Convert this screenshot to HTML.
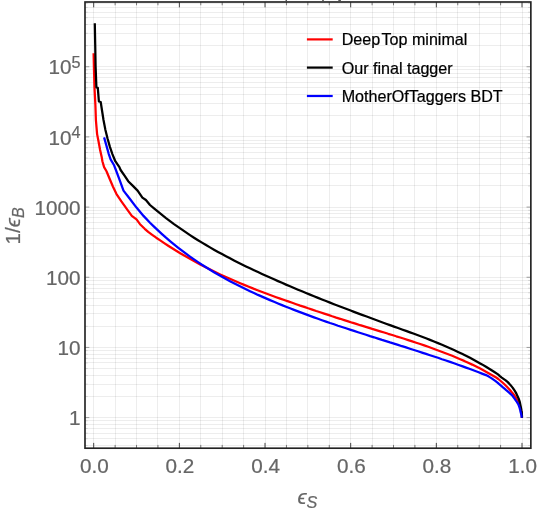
<!DOCTYPE html>
<html lang="en"><head><meta charset="utf-8"><title>ROC curves</title>
<style>
html,body{margin:0;padding:0;background:#fff;}
svg{display:block;will-change:transform;}
text{font-family:"Liberation Sans",Arial,Helvetica,sans-serif;}
.tk{fill:#666;font-size:20.7px;stroke:#666;stroke-width:0.22px;}
.sup{font-size:16.2px;}
.lg{fill:#000;font-size:16.1px;stroke:#000;stroke-width:0.22px;}
</style></head><body>
<svg width="538" height="510" viewBox="0 0 538 510">
<rect x="0" y="0" width="538" height="510" fill="#fff"/>
<g fill="none" stroke="#000" stroke-opacity="0.07" stroke-width="1" shape-rendering="crispEdges">
<line x1="93.5" y1="2.0" x2="93.5" y2="448.2"/>
<line x1="115.5" y1="2.0" x2="115.5" y2="448.2"/>
<line x1="136.5" y1="2.0" x2="136.5" y2="448.2"/>
<line x1="157.5" y1="2.0" x2="157.5" y2="448.2"/>
<line x1="179.5" y1="2.0" x2="179.5" y2="448.2"/>
<line x1="200.5" y1="2.0" x2="200.5" y2="448.2"/>
<line x1="222.5" y1="2.0" x2="222.5" y2="448.2"/>
<line x1="243.5" y1="2.0" x2="243.5" y2="448.2"/>
<line x1="265.5" y1="2.0" x2="265.5" y2="448.2"/>
<line x1="286.5" y1="2.0" x2="286.5" y2="448.2"/>
<line x1="307.5" y1="2.0" x2="307.5" y2="448.2"/>
<line x1="329.5" y1="2.0" x2="329.5" y2="448.2"/>
<line x1="350.5" y1="2.0" x2="350.5" y2="448.2"/>
<line x1="372.5" y1="2.0" x2="372.5" y2="448.2"/>
<line x1="393.5" y1="2.0" x2="393.5" y2="448.2"/>
<line x1="414.5" y1="2.0" x2="414.5" y2="448.2"/>
<line x1="436.5" y1="2.0" x2="436.5" y2="448.2"/>
<line x1="457.5" y1="2.0" x2="457.5" y2="448.2"/>
<line x1="479.5" y1="2.0" x2="479.5" y2="448.2"/>
<line x1="500.5" y1="2.0" x2="500.5" y2="448.2"/>
<line x1="522.5" y1="2.0" x2="522.5" y2="448.2"/>
<line x1="85.0" y1="445.5" x2="530.85" y2="445.5"/>
<line x1="85.0" y1="438.5" x2="530.85" y2="438.5"/>
<line x1="85.0" y1="433.5" x2="530.85" y2="433.5"/>
<line x1="85.0" y1="428.5" x2="530.85" y2="428.5"/>
<line x1="85.0" y1="424.5" x2="530.85" y2="424.5"/>
<line x1="85.0" y1="420.5" x2="530.85" y2="420.5"/>
<line x1="85.0" y1="417.5" x2="530.85" y2="417.5"/>
<line x1="85.0" y1="396.5" x2="530.85" y2="396.5"/>
<line x1="85.0" y1="384.5" x2="530.85" y2="384.5"/>
<line x1="85.0" y1="375.5" x2="530.85" y2="375.5"/>
<line x1="85.0" y1="368.5" x2="530.85" y2="368.5"/>
<line x1="85.0" y1="362.5" x2="530.85" y2="362.5"/>
<line x1="85.0" y1="358.5" x2="530.85" y2="358.5"/>
<line x1="85.0" y1="354.5" x2="530.85" y2="354.5"/>
<line x1="85.0" y1="350.5" x2="530.85" y2="350.5"/>
<line x1="85.0" y1="347.5" x2="530.85" y2="347.5"/>
<line x1="85.0" y1="326.5" x2="530.85" y2="326.5"/>
<line x1="85.0" y1="313.5" x2="530.85" y2="313.5"/>
<line x1="85.0" y1="305.5" x2="530.85" y2="305.5"/>
<line x1="85.0" y1="298.5" x2="530.85" y2="298.5"/>
<line x1="85.0" y1="292.5" x2="530.85" y2="292.5"/>
<line x1="85.0" y1="288.5" x2="530.85" y2="288.5"/>
<line x1="85.0" y1="284.5" x2="530.85" y2="284.5"/>
<line x1="85.0" y1="280.5" x2="530.85" y2="280.5"/>
<line x1="85.0" y1="277.5" x2="530.85" y2="277.5"/>
<line x1="85.0" y1="256.5" x2="530.85" y2="256.5"/>
<line x1="85.0" y1="243.5" x2="530.85" y2="243.5"/>
<line x1="85.0" y1="235.5" x2="530.85" y2="235.5"/>
<line x1="85.0" y1="228.5" x2="530.85" y2="228.5"/>
<line x1="85.0" y1="222.5" x2="530.85" y2="222.5"/>
<line x1="85.0" y1="217.5" x2="530.85" y2="217.5"/>
<line x1="85.0" y1="213.5" x2="530.85" y2="213.5"/>
<line x1="85.0" y1="210.5" x2="530.85" y2="210.5"/>
<line x1="85.0" y1="207.5" x2="530.85" y2="207.5"/>
<line x1="85.0" y1="185.5" x2="530.85" y2="185.5"/>
<line x1="85.0" y1="173.5" x2="530.85" y2="173.5"/>
<line x1="85.0" y1="164.5" x2="530.85" y2="164.5"/>
<line x1="85.0" y1="158.5" x2="530.85" y2="158.5"/>
<line x1="85.0" y1="152.5" x2="530.85" y2="152.5"/>
<line x1="85.0" y1="147.5" x2="530.85" y2="147.5"/>
<line x1="85.0" y1="143.5" x2="530.85" y2="143.5"/>
<line x1="85.0" y1="140.5" x2="530.85" y2="140.5"/>
<line x1="85.0" y1="136.5" x2="530.85" y2="136.5"/>
<line x1="85.0" y1="115.5" x2="530.85" y2="115.5"/>
<line x1="85.0" y1="103.5" x2="530.85" y2="103.5"/>
<line x1="85.0" y1="94.5" x2="530.85" y2="94.5"/>
<line x1="85.0" y1="87.5" x2="530.85" y2="87.5"/>
<line x1="85.0" y1="82.5" x2="530.85" y2="82.5"/>
<line x1="85.0" y1="77.5" x2="530.85" y2="77.5"/>
<line x1="85.0" y1="73.5" x2="530.85" y2="73.5"/>
<line x1="85.0" y1="69.5" x2="530.85" y2="69.5"/>
<line x1="85.0" y1="66.5" x2="530.85" y2="66.5"/>
<line x1="85.0" y1="45.5" x2="530.85" y2="45.5"/>
<line x1="85.0" y1="33.5" x2="530.85" y2="33.5"/>
<line x1="85.0" y1="24.5" x2="530.85" y2="24.5"/>
<line x1="85.0" y1="17.5" x2="530.85" y2="17.5"/>
<line x1="85.0" y1="12.5" x2="530.85" y2="12.5"/>
<line x1="85.0" y1="7.5" x2="530.85" y2="7.5"/>
<line x1="85.0" y1="3.5" x2="530.85" y2="3.5"/>
</g>
<g fill="none" stroke-width="2.25" stroke-linejoin="round" stroke-linecap="butt">
<polyline points="93.6,53.2 94.0,70.0 94.5,87.6 95.4,105.3 95.9,120.0 96.5,127.1 97.1,134.1 98.5,141.2 100.0,149.4 101.8,157.6 102.4,161.2 104.1,167.1 106.5,171.2 109.4,178.2 112.9,186.5 116.5,194.1 121.2,201.2 127.1,209.4 131.8,215.9 136.5,219.4 140.0,224.2 144.7,228.8 148.2,231.9 152.2,234.8 156.2,237.7 160.2,240.4 164.2,243.1 168.2,245.7 172.2,248.3 176.2,250.8 180.2,253.2 184.2,255.5 188.2,257.8 192.2,260.1 196.2,262.3 200.2,264.4 204.2,266.5 208.2,268.5 212.2,270.5 216.2,272.5 220.2,274.4 224.2,276.2 228.2,278.0 232.2,279.8 236.2,281.5 240.2,283.2 244.2,284.9 248.2,286.5 252.2,288.1 256.2,289.7 260.2,291.2 264.2,292.7 268.2,294.2 272.2,295.7 276.2,297.2 280.2,298.6 284.2,300.0 288.2,301.4 292.2,302.8 296.2,304.2 300.2,305.6 304.2,306.9 308.2,308.3 312.2,309.6 316.2,311.0 320.2,312.3 324.2,313.6 328.2,314.9 332.2,316.3 336.2,317.6 340.2,318.8 344.2,320.1 348.2,321.4 352.2,322.7 356.2,323.9 360.2,325.2 364.2,326.4 368.2,327.6 372.2,328.9 376.2,330.1 380.2,331.3 384.2,332.5 388.2,333.8 392.2,335.0 396.2,336.3 400.2,337.5 404.2,338.8 408.2,340.1 412.2,341.4 416.2,342.7 420.2,344.0 424.2,345.4 428.2,346.8 432.2,348.2 436.2,349.7 440.2,351.2 444.2,352.7 448.2,354.2 452.2,355.8 456.2,357.5 460.2,359.2 464.2,360.9 468.2,362.8 472.2,364.6 476.2,366.6 480.2,368.6 484.2,370.7 488.2,372.9 492.2,375.2 496.2,377.5 498.3,379.0 500.1,380.5 501.9,382.0 503.6,383.5 505.2,385.0 506.7,386.5 508.1,388.0 509.5,389.5 510.8,391.0 512.0,392.5 513.3,394.0 514.5,395.5 515.5,397.0 516.4,398.5 517.2,400.0 518.0,401.5 518.7,403.0 519.3,404.5 519.9,406.0 520.4,407.5 520.8,409.0 521.1,410.5 521.4,412.0 521.6,413.5 521.8,415.0 521.9,416.5 521.9,417.7" stroke="#ff0000"/>
<polyline points="94.8,23.2 95.2,44.4 95.6,66.4 96.4,87.4 97.8,87.9 98.9,101.5 100.7,102.0 103.5,120.0 105.3,129.4 107.6,138.8 110.0,147.1 112.4,154.1 115.3,161.2 119.4,167.1 120.6,170.0 124.7,175.9 128.2,181.2 132.9,185.9 137.6,190.6 142.4,197.6 145.9,200.0 150.0,205.0 154.0,208.4 158.0,211.7 162.0,214.9 166.0,218.1 170.0,221.1 174.0,224.1 178.0,226.9 182.0,229.7 186.0,232.4 190.0,235.1 194.0,237.7 198.0,240.2 202.0,242.6 206.0,245.0 210.0,247.4 214.0,249.7 218.0,251.9 222.0,254.1 226.0,256.2 230.0,258.3 234.0,260.4 238.0,262.4 242.0,264.4 246.0,266.4 250.0,268.3 254.0,270.2 258.0,272.0 262.0,273.9 266.0,275.7 270.0,277.5 274.0,279.3 278.0,281.1 282.0,282.8 286.0,284.6 290.0,286.3 294.0,288.0 298.0,289.7 302.0,291.3 306.0,293.0 310.0,294.6 314.0,296.2 318.0,297.9 322.0,299.5 326.0,301.0 330.0,302.6 334.0,304.2 338.0,305.7 342.0,307.3 346.0,308.8 350.0,310.3 354.0,311.9 358.0,313.4 362.0,314.9 366.0,316.3 370.0,317.8 374.0,319.3 378.0,320.8 382.0,322.2 386.0,323.7 390.0,325.1 394.0,326.6 398.0,328.0 402.0,329.5 406.0,330.9 410.0,332.4 414.0,333.8 418.0,335.3 422.0,336.8 426.0,338.3 430.0,339.9 434.0,341.5 438.0,343.1 442.0,344.7 446.0,346.5 450.0,348.2 454.0,350.0 458.0,351.9 462.0,353.8 466.0,355.8 470.0,357.8 474.0,360.0 478.0,362.2 482.0,364.4 486.0,366.8 490.0,369.2 494.0,371.8 498.0,374.4 499.6,375.9 501.4,377.4 503.5,378.9 505.7,380.4 507.5,381.9 509.0,383.4 510.4,384.9 511.6,386.4 512.8,387.9 513.8,389.4 514.8,390.9 515.7,392.4 516.5,393.9 517.2,395.4 517.9,396.9 518.6,398.4 519.1,399.9 519.6,401.4 520.0,402.9 520.3,404.4 520.6,405.9 520.9,407.4 521.2,408.9 521.4,410.4 521.7,411.9 521.8,413.4 521.9,414.9 522.0,416.4 522.0,417.7" stroke="#000"/>
<polyline points="104.1,137.4 106.5,145.9 108.8,154.1 110.6,159.4 114.1,165.3 115.9,170.0 119.4,179.4 123.5,190.6 129.4,198.2 136.5,207.6 143.5,215.9 150.0,222.7 154.0,226.6 158.0,230.4 162.0,234.1 166.0,237.7 170.0,241.1 174.0,244.4 178.0,247.6 182.0,250.7 186.0,253.7 190.0,256.6 194.0,259.4 198.0,262.1 202.0,264.8 206.0,267.3 210.0,269.8 214.0,272.2 218.0,274.5 222.0,276.8 226.0,279.0 230.0,281.2 234.0,283.3 238.0,285.3 242.0,287.3 246.0,289.3 250.0,291.2 254.0,293.0 258.0,294.9 262.0,296.6 266.0,298.4 270.0,300.1 274.0,301.8 278.0,303.5 282.0,305.1 286.0,306.8 290.0,308.3 294.0,309.9 298.0,311.4 302.0,312.9 306.0,314.4 310.0,315.9 314.0,317.4 318.0,318.8 322.0,320.2 326.0,321.6 330.0,323.0 334.0,324.3 338.0,325.7 342.0,327.0 346.0,328.3 350.0,329.6 354.0,330.9 358.0,332.2 362.0,333.5 366.0,334.8 370.0,336.1 374.0,337.3 378.0,338.6 382.0,339.9 386.0,341.1 390.0,342.4 394.0,343.6 398.0,344.9 402.0,346.2 406.0,347.4 410.0,348.7 414.0,350.0 418.0,351.3 422.0,352.6 426.0,353.9 430.0,355.2 434.0,356.5 438.0,357.8 442.0,359.2 446.0,360.5 450.0,361.9 454.0,363.3 458.0,364.7 462.0,366.1 466.0,367.6 470.0,369.0 474.0,370.5 478.0,372.0 482.0,373.6 486.0,375.1 488.8,376.6 491.3,378.1 493.5,379.6 495.6,381.1 497.5,382.6 499.2,384.1 501.0,385.6 502.7,387.1 504.5,388.6 506.2,390.1 508.0,391.6 509.7,393.1 511.3,394.6 512.7,396.1 513.8,397.6 514.9,399.1 515.9,400.6 517.0,402.1 517.9,403.6 518.6,405.1 519.2,406.6 519.7,408.1 520.1,409.6 520.4,411.1 520.8,412.6 521.2,414.1 521.5,415.6 521.7,417.1 521.8,417.7" stroke="#0000ff"/>
</g>
<g stroke="#555" stroke-width="1" fill="none">
<line x1="93.70" y1="448.2" x2="93.70" y2="442.90" stroke="#444"/>
<line x1="93.70" y1="2.0" x2="93.70" y2="7.30" stroke="#444"/>
<line x1="115.12" y1="448.2" x2="115.12" y2="444.90" stroke="#777"/>
<line x1="115.12" y1="2.0" x2="115.12" y2="5.30" stroke="#777"/>
<line x1="136.53" y1="448.2" x2="136.53" y2="444.90" stroke="#777"/>
<line x1="136.53" y1="2.0" x2="136.53" y2="5.30" stroke="#777"/>
<line x1="157.94" y1="448.2" x2="157.94" y2="444.90" stroke="#777"/>
<line x1="157.94" y1="2.0" x2="157.94" y2="5.30" stroke="#777"/>
<line x1="179.36" y1="448.2" x2="179.36" y2="442.90" stroke="#444"/>
<line x1="179.36" y1="2.0" x2="179.36" y2="7.30" stroke="#444"/>
<line x1="200.78" y1="448.2" x2="200.78" y2="444.90" stroke="#777"/>
<line x1="200.78" y1="2.0" x2="200.78" y2="5.30" stroke="#777"/>
<line x1="222.19" y1="448.2" x2="222.19" y2="444.90" stroke="#777"/>
<line x1="222.19" y1="2.0" x2="222.19" y2="5.30" stroke="#777"/>
<line x1="243.61" y1="448.2" x2="243.61" y2="444.90" stroke="#777"/>
<line x1="243.61" y1="2.0" x2="243.61" y2="5.30" stroke="#777"/>
<line x1="265.02" y1="448.2" x2="265.02" y2="442.90" stroke="#444"/>
<line x1="265.02" y1="2.0" x2="265.02" y2="7.30" stroke="#444"/>
<line x1="286.44" y1="448.2" x2="286.44" y2="444.90" stroke="#777"/>
<line x1="286.44" y1="2.0" x2="286.44" y2="5.30" stroke="#777"/>
<line x1="307.85" y1="448.2" x2="307.85" y2="444.90" stroke="#777"/>
<line x1="307.85" y1="2.0" x2="307.85" y2="5.30" stroke="#777"/>
<line x1="329.27" y1="448.2" x2="329.27" y2="444.90" stroke="#777"/>
<line x1="329.27" y1="2.0" x2="329.27" y2="5.30" stroke="#777"/>
<line x1="350.68" y1="448.2" x2="350.68" y2="442.90" stroke="#444"/>
<line x1="350.68" y1="2.0" x2="350.68" y2="7.30" stroke="#444"/>
<line x1="372.10" y1="448.2" x2="372.10" y2="444.90" stroke="#777"/>
<line x1="372.10" y1="2.0" x2="372.10" y2="5.30" stroke="#777"/>
<line x1="393.51" y1="448.2" x2="393.51" y2="444.90" stroke="#777"/>
<line x1="393.51" y1="2.0" x2="393.51" y2="5.30" stroke="#777"/>
<line x1="414.93" y1="448.2" x2="414.93" y2="444.90" stroke="#777"/>
<line x1="414.93" y1="2.0" x2="414.93" y2="5.30" stroke="#777"/>
<line x1="436.34" y1="448.2" x2="436.34" y2="442.90" stroke="#444"/>
<line x1="436.34" y1="2.0" x2="436.34" y2="7.30" stroke="#444"/>
<line x1="457.76" y1="448.2" x2="457.76" y2="444.90" stroke="#777"/>
<line x1="457.76" y1="2.0" x2="457.76" y2="5.30" stroke="#777"/>
<line x1="479.17" y1="448.2" x2="479.17" y2="444.90" stroke="#777"/>
<line x1="479.17" y1="2.0" x2="479.17" y2="5.30" stroke="#777"/>
<line x1="500.59" y1="448.2" x2="500.59" y2="444.90" stroke="#777"/>
<line x1="500.59" y1="2.0" x2="500.59" y2="5.30" stroke="#777"/>
<line x1="522.00" y1="448.2" x2="522.00" y2="442.90" stroke="#444"/>
<line x1="522.00" y1="2.0" x2="522.00" y2="7.30" stroke="#444"/>
<line x1="85.0" y1="445.52" x2="87.70" y2="445.52" stroke-width="0.4" stroke="#aaa"/>
<line x1="530.85" y1="445.52" x2="528.15" y2="445.52" stroke-width="0.4" stroke="#aaa"/>
<line x1="85.0" y1="438.72" x2="87.70" y2="438.72" stroke-width="0.4" stroke="#aaa"/>
<line x1="530.85" y1="438.72" x2="528.15" y2="438.72" stroke-width="0.4" stroke="#aaa"/>
<line x1="85.0" y1="433.17" x2="87.70" y2="433.17" stroke-width="0.4" stroke="#aaa"/>
<line x1="530.85" y1="433.17" x2="528.15" y2="433.17" stroke-width="0.4" stroke="#aaa"/>
<line x1="85.0" y1="428.47" x2="87.70" y2="428.47" stroke-width="0.4" stroke="#aaa"/>
<line x1="530.85" y1="428.47" x2="528.15" y2="428.47" stroke-width="0.4" stroke="#aaa"/>
<line x1="85.0" y1="424.40" x2="87.70" y2="424.40" stroke-width="0.4" stroke="#aaa"/>
<line x1="530.85" y1="424.40" x2="528.15" y2="424.40" stroke-width="0.4" stroke="#aaa"/>
<line x1="85.0" y1="420.81" x2="87.70" y2="420.81" stroke-width="0.4" stroke="#aaa"/>
<line x1="530.85" y1="420.81" x2="528.15" y2="420.81" stroke-width="0.4" stroke="#aaa"/>
<line x1="85.0" y1="417.60" x2="89.30" y2="417.60" stroke-width="0.7" stroke="#777"/>
<line x1="530.85" y1="417.60" x2="526.55" y2="417.60" stroke-width="0.7" stroke="#777"/>
<line x1="85.0" y1="396.48" x2="87.70" y2="396.48" stroke-width="0.4" stroke="#aaa"/>
<line x1="530.85" y1="396.48" x2="528.15" y2="396.48" stroke-width="0.4" stroke="#aaa"/>
<line x1="85.0" y1="384.12" x2="87.70" y2="384.12" stroke-width="0.4" stroke="#aaa"/>
<line x1="530.85" y1="384.12" x2="528.15" y2="384.12" stroke-width="0.4" stroke="#aaa"/>
<line x1="85.0" y1="375.35" x2="87.70" y2="375.35" stroke-width="0.4" stroke="#aaa"/>
<line x1="530.85" y1="375.35" x2="528.15" y2="375.35" stroke-width="0.4" stroke="#aaa"/>
<line x1="85.0" y1="368.55" x2="87.70" y2="368.55" stroke-width="0.4" stroke="#aaa"/>
<line x1="530.85" y1="368.55" x2="528.15" y2="368.55" stroke-width="0.4" stroke="#aaa"/>
<line x1="85.0" y1="363.00" x2="87.70" y2="363.00" stroke-width="0.4" stroke="#aaa"/>
<line x1="530.85" y1="363.00" x2="528.15" y2="363.00" stroke-width="0.4" stroke="#aaa"/>
<line x1="85.0" y1="358.30" x2="87.70" y2="358.30" stroke-width="0.4" stroke="#aaa"/>
<line x1="530.85" y1="358.30" x2="528.15" y2="358.30" stroke-width="0.4" stroke="#aaa"/>
<line x1="85.0" y1="354.23" x2="87.70" y2="354.23" stroke-width="0.4" stroke="#aaa"/>
<line x1="530.85" y1="354.23" x2="528.15" y2="354.23" stroke-width="0.4" stroke="#aaa"/>
<line x1="85.0" y1="350.64" x2="87.70" y2="350.64" stroke-width="0.4" stroke="#aaa"/>
<line x1="530.85" y1="350.64" x2="528.15" y2="350.64" stroke-width="0.4" stroke="#aaa"/>
<line x1="85.0" y1="347.43" x2="89.30" y2="347.43" stroke-width="0.7" stroke="#777"/>
<line x1="530.85" y1="347.43" x2="526.55" y2="347.43" stroke-width="0.7" stroke="#777"/>
<line x1="85.0" y1="326.31" x2="87.70" y2="326.31" stroke-width="0.4" stroke="#aaa"/>
<line x1="530.85" y1="326.31" x2="528.15" y2="326.31" stroke-width="0.4" stroke="#aaa"/>
<line x1="85.0" y1="313.95" x2="87.70" y2="313.95" stroke-width="0.4" stroke="#aaa"/>
<line x1="530.85" y1="313.95" x2="528.15" y2="313.95" stroke-width="0.4" stroke="#aaa"/>
<line x1="85.0" y1="305.18" x2="87.70" y2="305.18" stroke-width="0.4" stroke="#aaa"/>
<line x1="530.85" y1="305.18" x2="528.15" y2="305.18" stroke-width="0.4" stroke="#aaa"/>
<line x1="85.0" y1="298.38" x2="87.70" y2="298.38" stroke-width="0.4" stroke="#aaa"/>
<line x1="530.85" y1="298.38" x2="528.15" y2="298.38" stroke-width="0.4" stroke="#aaa"/>
<line x1="85.0" y1="292.83" x2="87.70" y2="292.83" stroke-width="0.4" stroke="#aaa"/>
<line x1="530.85" y1="292.83" x2="528.15" y2="292.83" stroke-width="0.4" stroke="#aaa"/>
<line x1="85.0" y1="288.13" x2="87.70" y2="288.13" stroke-width="0.4" stroke="#aaa"/>
<line x1="530.85" y1="288.13" x2="528.15" y2="288.13" stroke-width="0.4" stroke="#aaa"/>
<line x1="85.0" y1="284.06" x2="87.70" y2="284.06" stroke-width="0.4" stroke="#aaa"/>
<line x1="530.85" y1="284.06" x2="528.15" y2="284.06" stroke-width="0.4" stroke="#aaa"/>
<line x1="85.0" y1="280.47" x2="87.70" y2="280.47" stroke-width="0.4" stroke="#aaa"/>
<line x1="530.85" y1="280.47" x2="528.15" y2="280.47" stroke-width="0.4" stroke="#aaa"/>
<line x1="85.0" y1="277.26" x2="89.30" y2="277.26" stroke-width="0.7" stroke="#777"/>
<line x1="530.85" y1="277.26" x2="526.55" y2="277.26" stroke-width="0.7" stroke="#777"/>
<line x1="85.0" y1="256.14" x2="87.70" y2="256.14" stroke-width="0.4" stroke="#aaa"/>
<line x1="530.85" y1="256.14" x2="528.15" y2="256.14" stroke-width="0.4" stroke="#aaa"/>
<line x1="85.0" y1="243.78" x2="87.70" y2="243.78" stroke-width="0.4" stroke="#aaa"/>
<line x1="530.85" y1="243.78" x2="528.15" y2="243.78" stroke-width="0.4" stroke="#aaa"/>
<line x1="85.0" y1="235.01" x2="87.70" y2="235.01" stroke-width="0.4" stroke="#aaa"/>
<line x1="530.85" y1="235.01" x2="528.15" y2="235.01" stroke-width="0.4" stroke="#aaa"/>
<line x1="85.0" y1="228.21" x2="87.70" y2="228.21" stroke-width="0.4" stroke="#aaa"/>
<line x1="530.85" y1="228.21" x2="528.15" y2="228.21" stroke-width="0.4" stroke="#aaa"/>
<line x1="85.0" y1="222.66" x2="87.70" y2="222.66" stroke-width="0.4" stroke="#aaa"/>
<line x1="530.85" y1="222.66" x2="528.15" y2="222.66" stroke-width="0.4" stroke="#aaa"/>
<line x1="85.0" y1="217.96" x2="87.70" y2="217.96" stroke-width="0.4" stroke="#aaa"/>
<line x1="530.85" y1="217.96" x2="528.15" y2="217.96" stroke-width="0.4" stroke="#aaa"/>
<line x1="85.0" y1="213.89" x2="87.70" y2="213.89" stroke-width="0.4" stroke="#aaa"/>
<line x1="530.85" y1="213.89" x2="528.15" y2="213.89" stroke-width="0.4" stroke="#aaa"/>
<line x1="85.0" y1="210.30" x2="87.70" y2="210.30" stroke-width="0.4" stroke="#aaa"/>
<line x1="530.85" y1="210.30" x2="528.15" y2="210.30" stroke-width="0.4" stroke="#aaa"/>
<line x1="85.0" y1="207.09" x2="89.30" y2="207.09" stroke-width="0.7" stroke="#777"/>
<line x1="530.85" y1="207.09" x2="526.55" y2="207.09" stroke-width="0.7" stroke="#777"/>
<line x1="85.0" y1="185.97" x2="87.70" y2="185.97" stroke-width="0.4" stroke="#aaa"/>
<line x1="530.85" y1="185.97" x2="528.15" y2="185.97" stroke-width="0.4" stroke="#aaa"/>
<line x1="85.0" y1="173.61" x2="87.70" y2="173.61" stroke-width="0.4" stroke="#aaa"/>
<line x1="530.85" y1="173.61" x2="528.15" y2="173.61" stroke-width="0.4" stroke="#aaa"/>
<line x1="85.0" y1="164.84" x2="87.70" y2="164.84" stroke-width="0.4" stroke="#aaa"/>
<line x1="530.85" y1="164.84" x2="528.15" y2="164.84" stroke-width="0.4" stroke="#aaa"/>
<line x1="85.0" y1="158.04" x2="87.70" y2="158.04" stroke-width="0.4" stroke="#aaa"/>
<line x1="530.85" y1="158.04" x2="528.15" y2="158.04" stroke-width="0.4" stroke="#aaa"/>
<line x1="85.0" y1="152.49" x2="87.70" y2="152.49" stroke-width="0.4" stroke="#aaa"/>
<line x1="530.85" y1="152.49" x2="528.15" y2="152.49" stroke-width="0.4" stroke="#aaa"/>
<line x1="85.0" y1="147.79" x2="87.70" y2="147.79" stroke-width="0.4" stroke="#aaa"/>
<line x1="530.85" y1="147.79" x2="528.15" y2="147.79" stroke-width="0.4" stroke="#aaa"/>
<line x1="85.0" y1="143.72" x2="87.70" y2="143.72" stroke-width="0.4" stroke="#aaa"/>
<line x1="530.85" y1="143.72" x2="528.15" y2="143.72" stroke-width="0.4" stroke="#aaa"/>
<line x1="85.0" y1="140.13" x2="87.70" y2="140.13" stroke-width="0.4" stroke="#aaa"/>
<line x1="530.85" y1="140.13" x2="528.15" y2="140.13" stroke-width="0.4" stroke="#aaa"/>
<line x1="85.0" y1="136.92" x2="89.30" y2="136.92" stroke-width="0.7" stroke="#777"/>
<line x1="530.85" y1="136.92" x2="526.55" y2="136.92" stroke-width="0.7" stroke="#777"/>
<line x1="85.0" y1="115.80" x2="87.70" y2="115.80" stroke-width="0.4" stroke="#aaa"/>
<line x1="530.85" y1="115.80" x2="528.15" y2="115.80" stroke-width="0.4" stroke="#aaa"/>
<line x1="85.0" y1="103.44" x2="87.70" y2="103.44" stroke-width="0.4" stroke="#aaa"/>
<line x1="530.85" y1="103.44" x2="528.15" y2="103.44" stroke-width="0.4" stroke="#aaa"/>
<line x1="85.0" y1="94.67" x2="87.70" y2="94.67" stroke-width="0.4" stroke="#aaa"/>
<line x1="530.85" y1="94.67" x2="528.15" y2="94.67" stroke-width="0.4" stroke="#aaa"/>
<line x1="85.0" y1="87.87" x2="87.70" y2="87.87" stroke-width="0.4" stroke="#aaa"/>
<line x1="530.85" y1="87.87" x2="528.15" y2="87.87" stroke-width="0.4" stroke="#aaa"/>
<line x1="85.0" y1="82.32" x2="87.70" y2="82.32" stroke-width="0.4" stroke="#aaa"/>
<line x1="530.85" y1="82.32" x2="528.15" y2="82.32" stroke-width="0.4" stroke="#aaa"/>
<line x1="85.0" y1="77.62" x2="87.70" y2="77.62" stroke-width="0.4" stroke="#aaa"/>
<line x1="530.85" y1="77.62" x2="528.15" y2="77.62" stroke-width="0.4" stroke="#aaa"/>
<line x1="85.0" y1="73.55" x2="87.70" y2="73.55" stroke-width="0.4" stroke="#aaa"/>
<line x1="530.85" y1="73.55" x2="528.15" y2="73.55" stroke-width="0.4" stroke="#aaa"/>
<line x1="85.0" y1="69.96" x2="87.70" y2="69.96" stroke-width="0.4" stroke="#aaa"/>
<line x1="530.85" y1="69.96" x2="528.15" y2="69.96" stroke-width="0.4" stroke="#aaa"/>
<line x1="85.0" y1="66.75" x2="89.30" y2="66.75" stroke-width="0.7" stroke="#777"/>
<line x1="530.85" y1="66.75" x2="526.55" y2="66.75" stroke-width="0.7" stroke="#777"/>
<line x1="85.0" y1="45.63" x2="87.70" y2="45.63" stroke-width="0.4" stroke="#aaa"/>
<line x1="530.85" y1="45.63" x2="528.15" y2="45.63" stroke-width="0.4" stroke="#aaa"/>
<line x1="85.0" y1="33.27" x2="87.70" y2="33.27" stroke-width="0.4" stroke="#aaa"/>
<line x1="530.85" y1="33.27" x2="528.15" y2="33.27" stroke-width="0.4" stroke="#aaa"/>
<line x1="85.0" y1="24.50" x2="87.70" y2="24.50" stroke-width="0.4" stroke="#aaa"/>
<line x1="530.85" y1="24.50" x2="528.15" y2="24.50" stroke-width="0.4" stroke="#aaa"/>
<line x1="85.0" y1="17.70" x2="87.70" y2="17.70" stroke-width="0.4" stroke="#aaa"/>
<line x1="530.85" y1="17.70" x2="528.15" y2="17.70" stroke-width="0.4" stroke="#aaa"/>
<line x1="85.0" y1="12.15" x2="87.70" y2="12.15" stroke-width="0.4" stroke="#aaa"/>
<line x1="530.85" y1="12.15" x2="528.15" y2="12.15" stroke-width="0.4" stroke="#aaa"/>
<line x1="85.0" y1="7.45" x2="87.70" y2="7.45" stroke-width="0.4" stroke="#aaa"/>
<line x1="530.85" y1="7.45" x2="528.15" y2="7.45" stroke-width="0.4" stroke="#aaa"/>
<line x1="85.0" y1="3.38" x2="87.70" y2="3.38" stroke-width="0.4" stroke="#aaa"/>
<line x1="530.85" y1="3.38" x2="528.15" y2="3.38" stroke-width="0.4" stroke="#aaa"/>
</g>
<rect x="85.0" y="2.0" width="445.85" height="446.2" fill="none" stroke="#222" stroke-width="1.65"/>
<rect x="285.5" y="0" width="1.5" height="1.3" fill="#555"/>
<rect x="322.2" y="0" width="1.6" height="1.3" fill="#555"/>
<rect x="338.3" y="0" width="2.6" height="1.3" fill="#555"/>
<text class="tk" x="94.3" y="472.7" text-anchor="middle">0.0</text>
<text class="tk" x="180.0" y="472.7" text-anchor="middle">0.2</text>
<text class="tk" x="265.6" y="472.7" text-anchor="middle">0.4</text>
<text class="tk" x="351.3" y="472.7" text-anchor="middle">0.6</text>
<text class="tk" x="436.9" y="472.7" text-anchor="middle">0.8</text>
<text class="tk" x="522.6" y="472.7" text-anchor="middle">1.0</text>
<text class="tk" x="80.6" y="425.2" text-anchor="end">1</text>
<text class="tk" x="80.6" y="355.0" text-anchor="end">10</text>
<text class="tk" x="80.6" y="284.9" text-anchor="end">100</text>
<text class="tk" x="80.6" y="214.7" text-anchor="end">1000</text>
<text class="tk" x="71.6" y="144.5" text-anchor="end">10</text>
<text class="tk sup" x="71.4" y="138.1">4</text>
<text class="tk" x="71.6" y="74.3" text-anchor="end">10</text>
<text class="tk sup" x="71.4" y="68.0">5</text>
<text class="tk" x="297.4" y="504" ><tspan font-style="italic">ϵ</tspan><tspan class="sup" font-style="italic" dy="4.2">S</tspan></text>
<text class="tk" transform="translate(20.4,244.5) rotate(-90)">1/<tspan font-style="italic">ϵ</tspan><tspan class="sup" font-style="italic" dy="3.4">B</tspan></text>
<line x1="306.9" y1="39.4" x2="332.7" y2="39.4" stroke="#ff0000" stroke-width="2.2"/>
<text class="lg" x="341.7" y="45.3">Deep<tspan dx="1.3">Top minimal</tspan></text>
<line x1="306.9" y1="67.6" x2="332.7" y2="67.6" stroke="#000" stroke-width="2.2"/>
<text class="lg" x="341.7" y="73.5">Our final tagger</text>
<line x1="306.9" y1="96.0" x2="332.7" y2="96.0" stroke="#0000ff" stroke-width="2.2"/>
<text class="lg" x="341.7" y="101.9">MotherOfTaggers BDT</text>
</svg></body></html>
